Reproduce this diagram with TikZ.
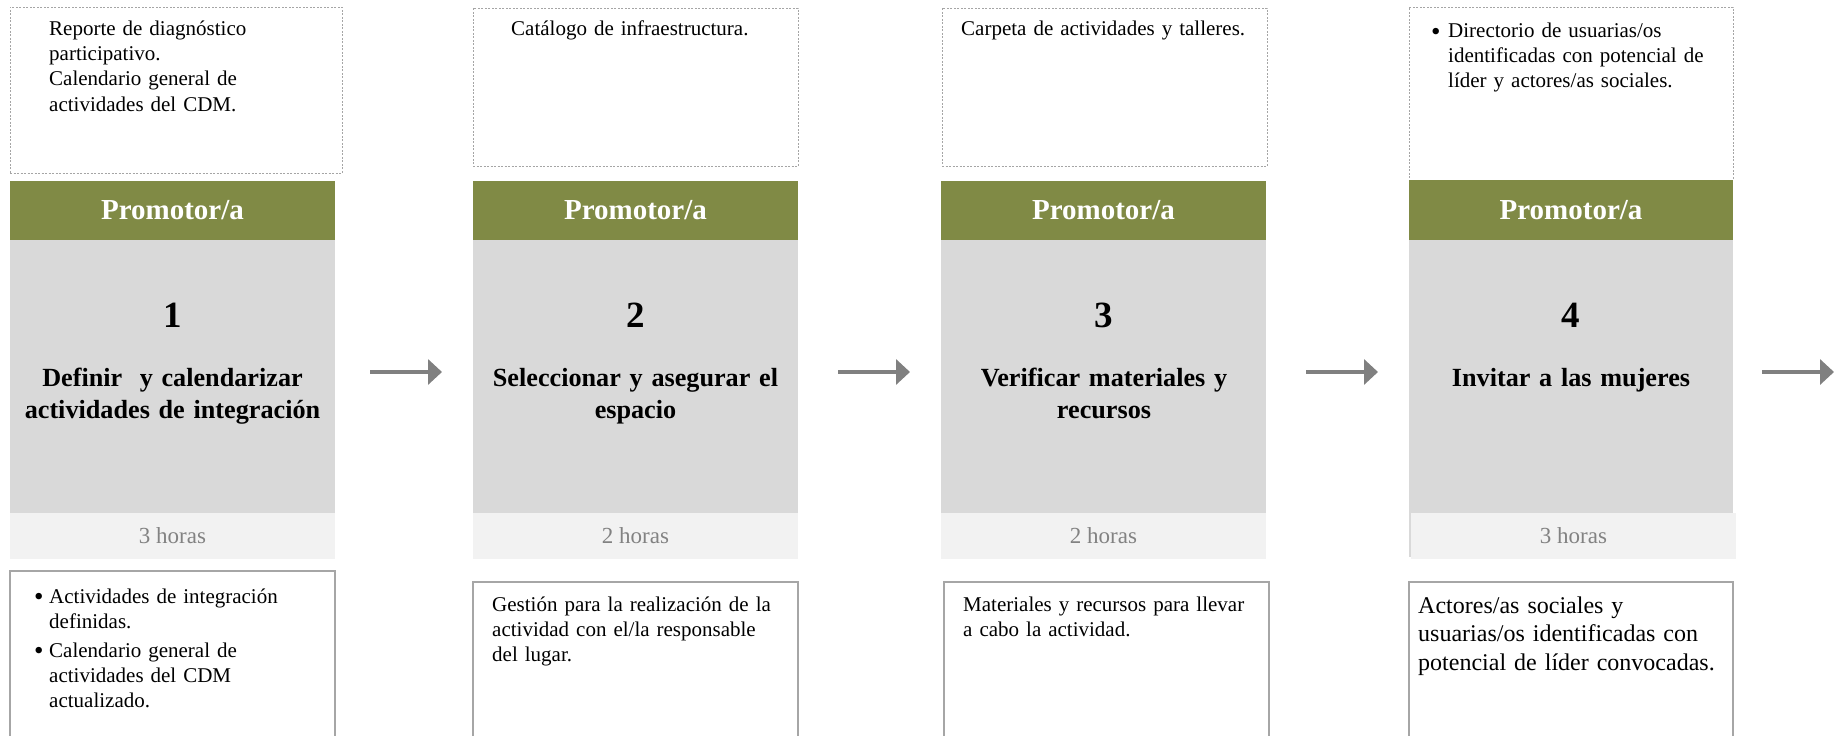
\documentclass[tikz,border=0pt]{standalone}
\usepackage{fontspec}
\setmainfont{Liberation Serif}
\usetikzlibrary{arrows.meta}
\definecolor{hdrgreen}{RGB}{128,138,69}
\definecolor{boxgray}{RGB}{217,217,217}
\definecolor{hourfill}{RGB}{242,242,242}
\definecolor{hourtext}{RGB}{130,130,130}
\definecolor{dashgray}{RGB}{165,165,165}
\definecolor{framegray}{RGB}{166,166,166}
\definecolor{arrowgray}{RGB}{128,128,128}
\newcommand{\mybul}[1]{\makebox[#1][l]{\hspace*{-1bp}\raisebox{-2.6bp}{\fontsize{27bp}{27bp}\selectfont\textbullet}}}
\begin{document}
\begin{tikzpicture}[x=1bp,y=-1bp,
  rect/.style={inner sep=0pt, outer sep=0pt, anchor=north west},
  inbox/.style={rect, draw=dashgray, dash pattern=on 2bp off 1.5bp, line width=0.9bp},
  hdr/.style={rect, fill=hdrgreen, text=white, font=\fontsize{29bp}{34bp}\selectfont\bfseries, minimum width=325bp, minimum height=59bp},
  stepbox/.style={rect, fill=boxgray, minimum width=325bp, minimum height=273bp},
  hourbox/.style={rect, fill=hourfill, text=hourtext, font=\fontsize{23bp}{27bp}\selectfont, minimum width=325bp, minimum height=46bp},
  outbox/.style={rect, draw=framegray, line width=1.2bp, minimum width=325bp, minimum height=200bp},
  txt/.style={inner sep=0pt, anchor=base west, text width=300bp, align=left, font=\fontsize{21bp}{25bp}\selectfont},
  bigtxt/.style={inner sep=0pt, anchor=base west, text width=310bp, align=left, font=\fontsize{24bp}{28.5bp}\selectfont},
  num/.style={inner sep=0pt, anchor=base, font=\fontsize{37bp}{40bp}\selectfont\bfseries},
  ttl/.style={inner sep=0pt, anchor=base, text width=315bp, align=center, font=\fontsize{26.2bp}{32bp}\selectfont\bfseries},
  arr/.style={draw=arrowgray, line width=4bp, -{Triangle[length=14bp,width=25bp]}}
]
\useasboundingbox (0,0) rectangle (1846,736);
\clip (0,0) rectangle (1846,736);

% ---- column 1
\node[inbox, minimum width=332bp, minimum height=166bp] (in1) at (10,7) {};
\node[hdr] (h1) at (10,181) {Promotor/a};
\node[stepbox] (g1) at (10,240) {};
\node[hourbox] (hr1) at (10,513) {3 horas};
\node[outbox] (o1) at (10,571) {};
\node[txt] (it1) at (49,36) {Reporte de diagnóstico\\participativo.\\Calendario general de\\actividades del CDM.};
\node[num] (n1) at (172.5,327) {1};
\node[ttl] (s1) at (172.5,386) {Definir\ \ y calendarizar\\actividades de integración};
\node[txt] (ot1) at (35,603) {\mybul{14bp}Actividades de integración\\\hspace*{14bp}definidas.\\[4bp]\mybul{14bp}Calendario general de\\\hspace*{14bp}actividades del CDM\\\hspace*{14bp}actualizado.};

% ---- column 2
\node[inbox, minimum width=325bp, minimum height=158bp] (in2) at (473,8) {};
\node[hdr] (h2) at (473,181) {Promotor/a};
\node[stepbox] (g2) at (473,240) {};
\node[hourbox] (hr2) at (473,513) {2 horas};
\node[outbox] (o2) at (473,582) {};
\node[txt] (it2) at (511,36) {Catálogo de infraestructura.};
\node[num] (n2) at (635.5,327) {2};
\node[ttl] (s2) at (635.5,386) {Seleccionar y asegurar el\\espacio};
\node[txt] (ot2) at (492,611) {Gestión para la realización de la\\actividad con el/la responsable\\del lugar.};

% ---- column 3
\node[inbox, minimum width=325bp, minimum height=158bp] (in3) at (942,8) {};
\node[hdr] (h3) at (941,181) {Promotor/a};
\node[stepbox] (g3) at (941,240) {};
\node[hourbox] (hr3) at (941,513) {2 horas};
\node[outbox] (o3) at (944,582) {};
\node[txt] (it3) at (961,36) {Carpeta de actividades y talleres.};
\node[num] (n3) at (1104,327) {3};
\node[ttl] (s3) at (1104,386) {Verificar materiales y\\recursos};
\node[txt] (ot3) at (963,611) {Materiales y recursos para llevar\\a cabo la actividad.};

% ---- column 4
\node[inbox, minimum width=324bp, minimum height=173bp] (in4) at (1409,7) {};
\node[hdr, minimum width=324bp, minimum height=60bp] (h4) at (1409,180) {Promotor/a};
\node[stepbox, minimum width=324bp, minimum height=317bp] (g4) at (1409,240) {};
\node[hourbox] (hr4) at (1411,513) {3 horas};
\node[outbox, minimum width=324bp] (o4) at (1409,582) {};
\node[txt] (it4) at (1432,38) {\mybul{16bp}Directorio de usuarias/os\\\hspace*{16bp}identificadas con potencial de\\\hspace*{16bp}líder y actores/as sociales.};
\node[num] (n4) at (1571,327) {4};
\node[ttl] (s4) at (1571,386) {Invitar a las mujeres};
\node[bigtxt] (ot4) at (1418,613) {Actores/as sociales y\\usuarias/os identificadas con\\potencial de líder convocadas.};

% ---- arrows
\coordinate (endpt) at (1834,372);
\draw[arr] ([xshift=35bp]g1.east |- 0,372) -- ([xshift=-31bp]g2.west |- 0,372);
\draw[arr] ([xshift=40bp]g2.east |- 0,372) -- ([xshift=-31bp]g3.west |- 0,372);
\draw[arr] ([xshift=40bp]g3.east |- 0,372) -- ([xshift=-31bp]g4.west |- 0,372);
\draw[arr] ([xshift=29bp]g4.east |- 0,372) -- (endpt);
\end{tikzpicture}
\end{document}
